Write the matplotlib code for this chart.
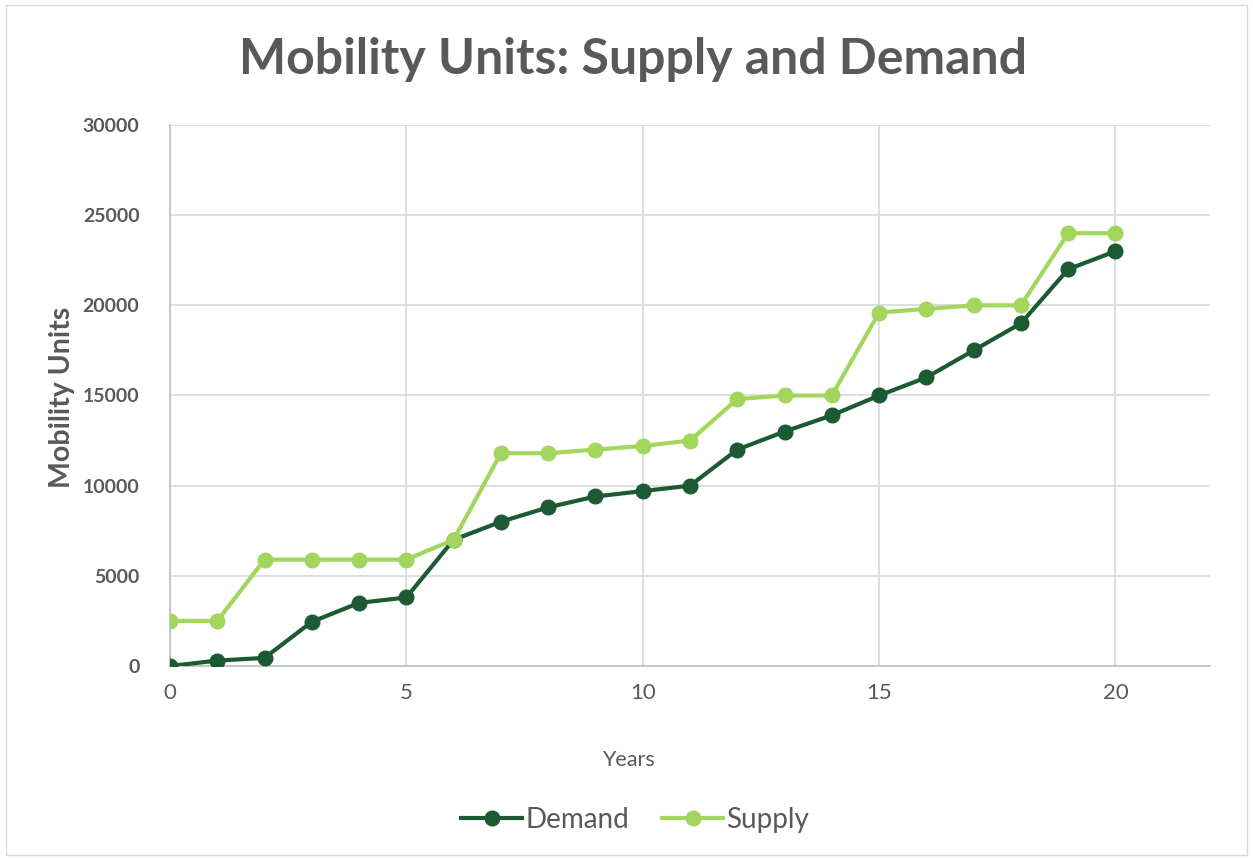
import matplotlib
matplotlib.use("Agg")
import matplotlib.pyplot as plt
from matplotlib.patches import Rectangle

plt.rcParams['font.family'] = ['Lato', 'DejaVu Sans']

years = list(range(21))
demand = [0, 300, 450, 2450, 3500, 3800, 7000, 8000, 8800, 9400, 9700,
          10000, 12000, 13000, 13900, 15000, 16000, 17500, 19000, 22000, 23000]
supply = [2500, 2500, 5900, 5900, 5900, 5900, 7000, 11800, 11800, 12000, 12200,
          12500, 14800, 15000, 15000, 19600, 19800, 20000, 20000, 24000, 24000]

dark = '#1b5a32'
light = '#a3d65c'
grey_txt = '#595959'

fig = plt.figure(figsize=(12.53, 8.6), dpi=100)
fig.patches.append(Rectangle((0.005, 0.006), 0.99, 0.988, transform=fig.transFigure,
                             fill=False, edgecolor='#d9d9d9', lw=1))
ax = fig.add_axes([170 / 1253, 1 - 666 / 860, 1040 / 1253, 541 / 860])

ax.plot(years, demand, color=dark, lw=3, marker='o', ms=10.5, label='Demand', zorder=3)
ax.plot(years, supply, color=light, lw=3, marker='o', ms=10.5, label='Supply', zorder=3)

ax.set_xlim(0, 22)
ax.set_ylim(0, 30000)
ax.set_xticks([0, 5, 10, 15, 20])
ax.set_yticks(range(0, 30001, 5000))
ax.grid(True, color='#d9d9d9', lw=1.2)
ax.set_axisbelow(True)
for s in ['top', 'right']:
    ax.spines[s].set_visible(False)
for s in ['left', 'bottom']:
    ax.spines[s].set_color('#bfbfbf')
    ax.spines[s].set_linewidth(1.2)
ax.tick_params(length=0)
ax.tick_params(axis='x', pad=12, labelsize=16, labelcolor=grey_txt)
ax.tick_params(axis='y', pad=22, labelsize=14, labelcolor=grey_txt)
for lbl in ax.get_yticklabels():
    lbl.set_fontweight('bold')

fig.text(0.505, 1 - 60 / 860, 'Mobility Units: Supply and Demand', ha='center', va='center',
         fontsize=36, fontweight='bold', color=grey_txt)
fig.text(628 / 1253, 1 - 760 / 860, 'Years', ha='center', va='center',
         fontsize=15.5, color=grey_txt)
fig.text(62 / 1253, 1 - 397 / 860, 'Mobility Units', ha='center', va='center',
         rotation=90, fontsize=20.5, fontweight='bold', color=grey_txt)

fig.legend(loc='center', bbox_to_anchor=(635 / 1253, 1 - 820 / 860), ncol=2,
           frameon=False, fontsize=20, labelcolor=grey_txt, handlelength=2.2,
           handletextpad=0.1, columnspacing=1.2)

fig.savefig('out.png', dpi=100)
